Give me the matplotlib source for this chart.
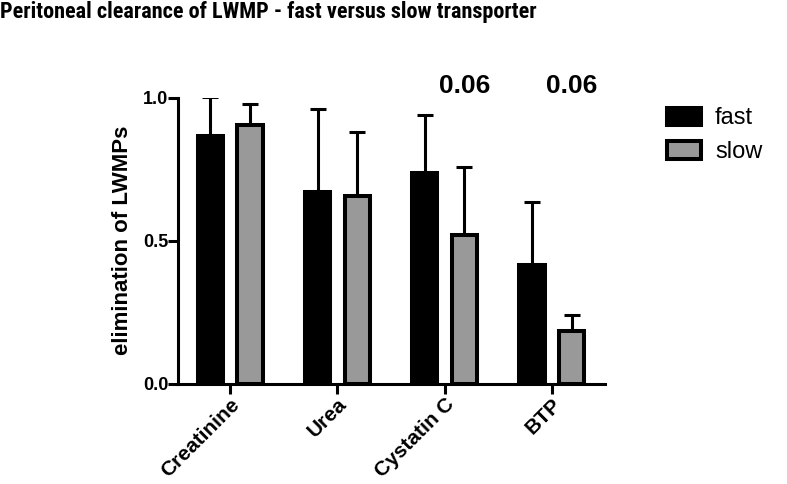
import numpy as np
import matplotlib
matplotlib.use("Agg")
import matplotlib.pyplot as plt
from matplotlib.patches import Patch

categories = ["Creatinine", "Urea", "Cystatin C", "BTP"]
fast = [0.867, 0.672, 0.737, 0.415]
fast_err = [0.136, 0.288, 0.203, 0.219]
slow = [0.906, 0.658, 0.519, 0.186]
slow_err = [0.073, 0.222, 0.240, 0.053]
p_labels = ["", "", "0.06", "0.06"]

plt.rcParams["font.family"] = "Liberation Sans"

fig = plt.figure(figsize=(7.87, 4.84), dpi=100)
ax = fig.add_axes([0.226, 0.207, 0.543, 0.591])

x = np.arange(len(categories))
w = 0.24
off = 0.186
lw = 2.9

ax.bar(x - off, fast, w, color="black", edgecolor="black", linewidth=lw, zorder=3)
ax.bar(x + off, slow, w, color="#999999", edgecolor="black", linewidth=lw, zorder=3)
ax.errorbar(x - off, fast, yerr=[np.zeros(4), fast_err], fmt="none", ecolor="black",
            elinewidth=2.2, capsize=6, capthick=2.2, zorder=2)
ax.errorbar(x + off, slow, yerr=[np.zeros(4), slow_err], fmt="none", ecolor="black",
            elinewidth=2.2, capsize=6, capthick=2.2, zorder=2)

for xi, lab in zip(x, p_labels):
    if lab:
        ax.text(xi + 0.19, 1.042, lab, ha="center", va="center", fontsize=19,
                fontweight="bold", clip_on=False)

ax.set_xlim(-0.49, 3.5)
ax.set_ylim(0, 1.0)
ax.set_yticks([0.0, 0.5, 1.0])
ax.set_yticklabels(["0.0", "0.5", "1.0"], fontsize=13, fontweight="bold")
ax.set_xticks(x)
ax.set_xticklabels(categories, rotation=45, ha="right", rotation_mode="anchor",
                   fontsize=15, fontweight="bold")
ax.tick_params(axis="both", length=7, width=2.2, pad=1, direction="out")
ax.tick_params(axis="y", pad=0)
for s in ["top", "right"]:
    ax.spines[s].set_visible(False)
for s in ["left", "bottom"]:
    ax.spines[s].set_linewidth(2.2)

ax.set_ylabel("elimination of LWMPs", fontsize=16, fontweight="bold", labelpad=7)

fig.text(0.0, 0.997, "Peritoneal clearance of LWMP - fast versus slow transporter",
         ha="left", va="top", fontsize=16, fontweight="bold", family="Roboto Condensed")

handles = [Patch(facecolor="black", edgecolor="black", linewidth=lw),
           Patch(facecolor="#999999", edgecolor="black", linewidth=lw)]
fig.legend(handles, ["fast", "slow"], loc="upper left", bbox_to_anchor=(0.847, 0.778),
           frameon=False, fontsize=17, handlelength=1.45, handleheight=0.75,
           labelspacing=0.5, handletextpad=0.6, borderaxespad=0, borderpad=0)

fig.savefig("out.png", dpi=100)
